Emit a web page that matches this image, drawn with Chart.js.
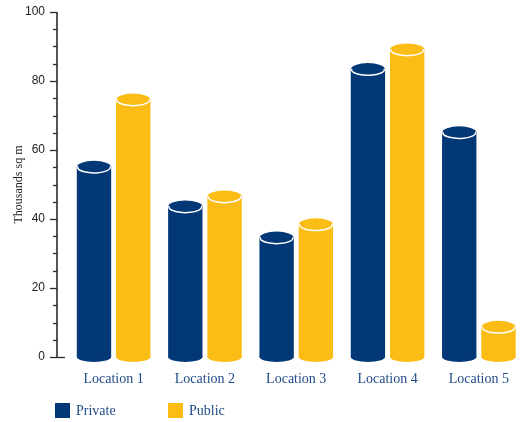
<!DOCTYPE html>
<html lang="en">
<head>
<meta charset="UTF-8">
<title>Private vs Public space by location</title>
<style>
    body { margin: 0; padding: 0; background: #fff; }
    #wrap { width: 523px; height: 422px; }
</style>
</head>
<body>
<div id="wrap"><canvas id="chart"></canvas></div>

<script src="https://cdn.jsdelivr.net/npm/chart.js"></script>
<script>
const locations = ['Location 1', 'Location 2', 'Location 3', 'Location 4', 'Location 5'];
const privateVals = [55, 43.5, 34.5, 83.3, 65];
const publicVals = [74.5, 46.4, 38.3, 89, 8.6];
const yTicks = [0, 20, 40, 60, 80, 100];

const BLUE = '#033877';
const YELLOW = '#fcbc16';
const TEXT_BLUE = '#1f4b88';
const SERIF = '"Liberation Serif", "Times New Roman", serif';

// draw each bar as a cylinder, using the positions chart.js computed
const cylinders = {
    id: 'cylinders',
    afterDatasetsDraw(chart) {
        const ctx = chart.ctx;
        chart.data.datasets.forEach((ds, i) => {
            const meta = chart.getDatasetMeta(i);
            meta.data.forEach(bar => {
                const p = bar.getProps(['x', 'y', 'base', 'width'], true);
                const rx = p.width / 2, ry = 6.5;
                ctx.save();
                ctx.fillStyle = ds.cylColor;
                ctx.fillRect(p.x - rx, p.y, p.width, p.base - p.y);
                ctx.beginPath();
                ctx.ellipse(p.x, p.base, rx, ry * 0.75, 0, 0, Math.PI * 2);
                ctx.fill();
                ctx.beginPath();
                ctx.ellipse(p.x, p.y, rx, ry, 0, 0, Math.PI * 2);
                ctx.fill();
                ctx.strokeStyle = '#ffffff';
                ctx.lineWidth = 1.5;
                ctx.beginPath();
                ctx.ellipse(p.x, p.y, rx - 0.8, ry - 0.8, 0, -0.15, Math.PI + 0.15);
                ctx.stroke();
                ctx.restore();
            });
        });
    }
};

// y axis line with major/minor ticks, plus the bottom legend
const decor = {
    id: 'decor',
    afterDraw(chart) {
        const ctx = chart.ctx;
        const ys = chart.scales.y;
        const left = chart.chartArea.left;
        ctx.save();
        ctx.strokeStyle = '#2a2a2a';
        ctx.lineWidth = 1.6;
        ctx.beginPath();
        ctx.moveTo(left, ys.getPixelForValue(100));
        ctx.lineTo(left, ys.getPixelForValue(0));
        ctx.stroke();
        ctx.lineWidth = 1.3;
        for (let v = 0; v <= 100; v += 5) {
            const y = Math.round(ys.getPixelForValue(v)) + 0.5;
            const len = v % 20 === 0 ? 7 : 4;
            ctx.beginPath();
            ctx.moveTo(left - len, y);
            ctx.lineTo(v === 0 ? left + 8 : left, y);
            ctx.stroke();
        }

        // legend
        ctx.font = '14px ' + SERIF;
        ctx.textBaseline = 'middle';
        ctx.textAlign = 'left';
        let x = 55;
        chart.data.datasets.forEach(ds => {
            ctx.fillStyle = ds.cylColor;
            ctx.fillRect(x, 403, 15, 15);
            ctx.fillStyle = TEXT_BLUE;
            ctx.fillText(ds.label, x + 21, 411);
            x += 113;
        });
        ctx.restore();
    }
};

new Chart(document.getElementById('chart'), {
    type: 'bar',
    data: {
        datasets: [
            {
                label: 'Private',
                data: privateVals.map((v, i) => ({ x: i, y: v })),
                backgroundColor: 'rgba(0,0,0,0)',
                cylColor: BLUE
            },
            {
                label: 'Public',
                data: publicVals.map((v, i) => ({ x: i, y: v })),
                backgroundColor: 'rgba(0,0,0,0)',
                cylColor: YELLOW
            }
        ]
    },
    options: {
        responsive: true,
        maintainAspectRatio: false,
        animation: false,
        categoryPercentage: 0.86,
        barPercentage: 0.875,
        layout: { padding: { top: 12, right: 0, bottom: 0, left: 0 } },
        plugins: {
            legend: { display: false },
            tooltip: { enabled: false }
        },
        scales: {
            x: {
                type: 'linear',
                min: -0.62,
                max: 4.39,
                offset: false,
                grid: { display: false, drawTicks: false },
                border: { display: false },
                afterBuildTicks: s => { s.ticks = locations.map((_, i) => ({ value: i })); },
                ticks: {
                    autoSkip: false,
                    maxRotation: 0,
                    padding: 14,
                    color: TEXT_BLUE,
                    font: { family: SERIF, size: 14 },
                    callback: v => locations[v]
                },
                afterFit: s => { s.height = 65; }
            },
            y: {
                min: 0,
                max: 100,
                // tick marks are drawn by the decor plugin; tickLength only spaces the labels
                grid: { display: false, drawTicks: true, tickLength: 12 },
                border: { display: false },
                afterBuildTicks: s => { s.ticks = yTicks.map(v => ({ value: v })); },
                ticks: {
                    padding: 0,
                    color: '#222',
                    font: { family: '"Liberation Sans", Arial, sans-serif', size: 12 }
                },
                title: {
                    display: true,
                    text: 'Thousands sq m',
                    color: '#222',
                    font: { family: SERIF, size: 12 },
                    padding: { top: 12, bottom: 0 }
                },
                afterFit: s => { s.width = 57; }
            }
        }
    },
    plugins: [cylinders, decor]
});
</script>
</body>
</html>
